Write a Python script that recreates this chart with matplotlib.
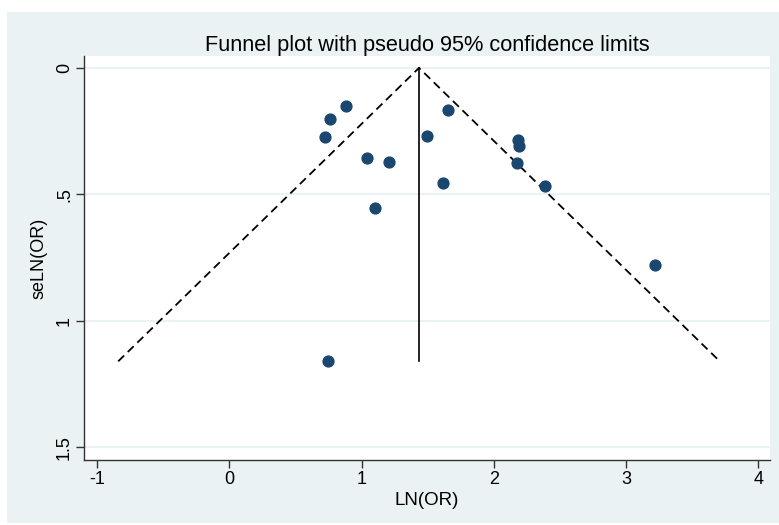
import matplotlib.pyplot as plt
from matplotlib.patches import Rectangle

plt.rcParams['font.family'] = ['Liberation Sans', 'DejaVu Sans']

# study estimates
lnor = [0.879, 0.763, 0.726, 1.043, 1.209, 1.101, 0.749, 1.655, 1.491,
        2.180, 2.192, 2.175, 1.615, 2.389, 3.218]
se = [0.150, 0.204, 0.273, 0.357, 0.371, 0.553, 1.160, 0.166, 0.269,
      0.287, 0.308, 0.374, 0.456, 0.466, 0.779]
pooled = 1.434
xticks = [-1, 0, 1, 2, 3, 4]
yticks = [0, 0.5, 1, 1.5]
yticklabels = ['0', '.5', '1', '1.5']

bg = '#eaf2f3'
navy = '#1a476f'

fig = plt.figure(figsize=(7.79, 5.25), dpi=100)
fig.patch.set_facecolor('white')
fig.patches.append(Rectangle((7 / 779, 2 / 525), 772 / 779, 511 / 525,
                             transform=fig.transFigure, facecolor=bg,
                             edgecolor='none', zorder=-10))

ax = fig.add_axes([84 / 779, 65 / 525, 686 / 779, 404 / 525])
ax.set_zorder(5)
ax.set_facecolor('white')

# pseudo 95% limits
semax = max(se)
lo = pooled - 1.96 * semax
hi = pooled + 1.96 * semax
ax.plot([lo, pooled, hi], [semax, 0, semax], color='black', lw=1.3,
        dashes=(4.6, 2.8), zorder=2)
ax.plot([pooled, pooled], [0, semax], color='black', lw=1.2, zorder=2)
ax.plot(lnor, se, 'o', color=navy, markersize=7.8, mec=navy, zorder=3)

ax.set_xlim(-1.098, 4.087)
ax.set_ylim(1.55, -0.047)
ax.set_xticks(xticks)
ax.set_xticklabels([str(t) for t in xticks])
ax.set_yticks(yticks)
ax.set_yticklabels(yticklabels, rotation=90, va='center')
ax.tick_params(labelsize=13, length=5.5, width=1, color='#333333', pad=2.5)
ax.yaxis.grid(True, color=bg, lw=1.5)
ax.set_axisbelow(True)
for s in ['top', 'right']:
    ax.spines[s].set_visible(False)
for s in ['left', 'bottom']:
    ax.spines[s].set_color('#333333')
    ax.spines[s].set_linewidth(1)

ax.set_title('Funnel plot with pseudo 95% confidence limits', fontsize=15.7, pad=3)
ax.set_xlabel('LN(OR)', fontsize=13.5, labelpad=3)
ax.set_ylabel('seLN(OR)', fontsize=13, labelpad=6)

fig.savefig('out.png', dpi=100)
